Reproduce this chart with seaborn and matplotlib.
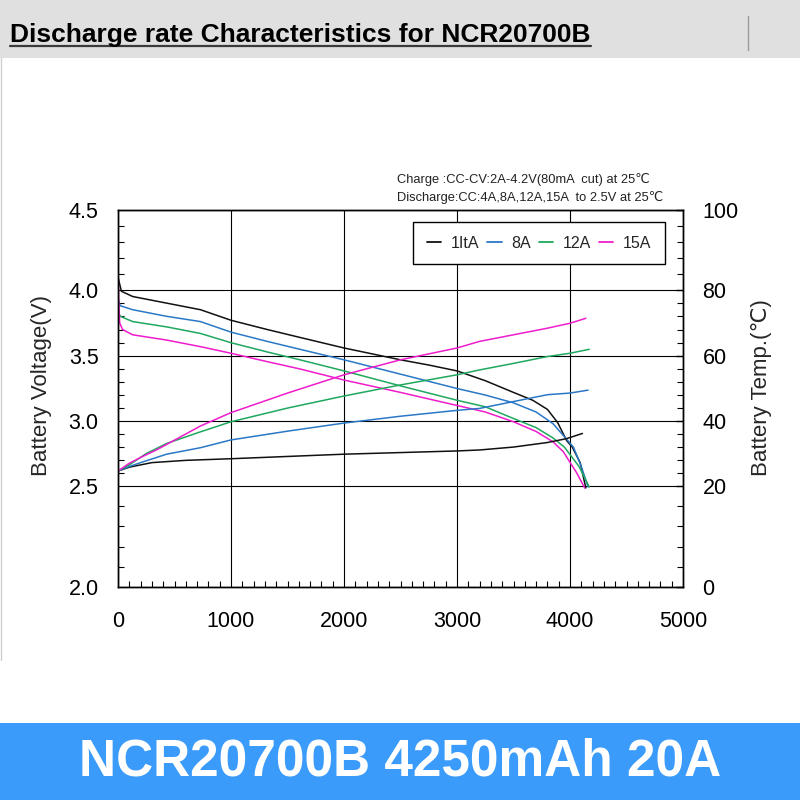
import numpy as np
import pandas as pd
import matplotlib
matplotlib.use("Agg")
import matplotlib.pyplot as plt
import seaborn as sns
from matplotlib.patches import Rectangle
from matplotlib.lines import Line2D
from matplotlib.ticker import MultipleLocator, FixedLocator, FormatStrFormatter

# discharge curves: capacity (mAh) vs voltage (V)
rates = ["1ItA", "8A", "12A", "15A"]
colors = ["#111111", "#2a78c6", "#1fa85e", "#ee1ccc"]

cap_v_4a = [0, 30, 130, 280, 430, 730, 1000, 1320, 1610, 2000, 2500, 2750, 3000, 3250, 3500, 3670, 3800, 3890, 3970, 4020, 4090, 4140]
volt_4a = [4.08, 3.99, 3.95, 3.925, 3.90, 3.85, 3.77, 3.70, 3.64, 3.56, 3.47, 3.43, 3.385, 3.31, 3.22, 3.16, 3.09, 2.99, 2.85, 2.80, 2.68, 2.49]

cap_v_8a = [0, 20, 130, 280, 430, 730, 1000, 1320, 1610, 2000, 2500, 3000, 3250, 3500, 3700, 3850, 3950, 4030, 4100, 4160]
volt_8a = [3.93, 3.88, 3.85, 3.825, 3.80, 3.76, 3.68, 3.61, 3.55, 3.47, 3.36, 3.25, 3.20, 3.14, 3.07, 2.98, 2.88, 2.80, 2.65, 2.495]

cap_v_12a = [0, 20, 130, 280, 430, 730, 1000, 1320, 1610, 2000, 2500, 3000, 3250, 3500, 3700, 3850, 3950, 4080, 4170]
volt_12a = [3.84, 3.80, 3.76, 3.74, 3.72, 3.67, 3.60, 3.53, 3.47, 3.385, 3.27, 3.16, 3.11, 3.02, 2.95, 2.87, 2.80, 2.65, 2.495]

cap_v_15a = [0, 5, 15, 40, 130, 280, 430, 730, 1000, 1320, 1610, 2000, 2500, 3000, 3250, 3500, 3700, 3850, 3940, 4060, 4130]
volt_15a = [4.16, 3.95, 3.75, 3.70, 3.66, 3.64, 3.62, 3.57, 3.52, 3.456, 3.40, 3.315, 3.22, 3.12, 3.07, 2.995, 2.92, 2.84, 2.765, 2.60, 2.49]

# cell temperature (degC)
cap_t_4a = [0, 100, 300, 600, 1000, 1500, 2000, 2500, 3000, 3200, 3500, 3800, 3970, 4110]
temp_4a = [24.6, 25.8, 27.2, 27.9, 28.4, 29.1, 29.8, 30.3, 30.8, 31.1, 32.0, 33.4, 34.6, 36.2]

cap_t_8a = [0, 100, 200, 430, 730, 1000, 1500, 2000, 2500, 3000, 3200, 3500, 3800, 4000, 4160]
temp_8a = [24.6, 26.0, 27.2, 29.8, 31.8, 34.2, 36.9, 39.4, 41.5, 43.3, 43.9, 46.0, 48.1, 48.6, 49.5]

cap_t_12a = [0, 100, 250, 430, 730, 1000, 1500, 2000, 2500, 3000, 3200, 3500, 3800, 4000, 4170]
temp_12a = [24.6, 26.5, 30.0, 33.1, 36.7, 39.8, 44.0, 47.7, 51.1, 54.2, 55.7, 57.7, 59.8, 60.8, 62.0]

cap_t_15a = [0, 100, 200, 340, 730, 1000, 1500, 2000, 2500, 3000, 3200, 3500, 3800, 4000, 4140]
temp_15a = [24.6, 27.0, 28.8, 31.1, 38.5, 42.6, 48.6, 54.2, 58.8, 62.4, 64.4, 66.4, 68.4, 69.9, 71.4]

volt_ticks = [2.0, 2.5, 3.0, 3.5, 4.0, 4.5]
temp_ticks = [0, 20, 40, 60, 80, 100]
cap_ticks = [0, 1000, 2000, 3000, 4000, 5000]
# the original chart's vertical axis is not evenly spaced
axis_pos = [0.0, 0.268, 0.440, 0.613, 0.788, 1.0]


def frame(caps, vals, name):
    return pd.DataFrame({"cap": caps, "val": vals, "rate": name})


volt_df = pd.concat([
    frame(cap_v_4a, volt_4a, "1ItA"),
    frame(cap_v_8a, volt_8a, "8A"),
    frame(cap_v_12a, volt_12a, "12A"),
    frame(cap_v_15a, volt_15a, "15A"),
], ignore_index=True)
temp_df = pd.concat([
    frame(cap_t_4a, temp_4a, "1ItA"),
    frame(cap_t_8a, temp_8a, "8A"),
    frame(cap_t_12a, temp_12a, "12A"),
    frame(cap_t_15a, temp_15a, "15A"),
], ignore_index=True)

sns.set_theme(style="ticks")
plt.rcParams["font.family"] = ["Liberation Sans", "DejaVu Sans"]

W, H = 800, 800
fig = plt.figure(figsize=(8, 8), dpi=100)
fig.patch.set_facecolor("white")

# header band and footer banner
fig.add_artist(Rectangle((0, 1 - 58 / H), 1, 58 / H, transform=fig.transFigure,
                         facecolor="#e0e0e0", edgecolor="none", zorder=0))
fig.add_artist(Line2D([748 / W, 748 / W], [1 - 50 / H, 1 - 16 / H], transform=fig.transFigure,
                      color="#9a9a9a", lw=1))
fig.add_artist(Line2D([1 / W, 1 / W], [1 - 660 / H, 1 - 58 / H], transform=fig.transFigure,
                      color="#cfcfcf", lw=1))
fig.add_artist(Rectangle((0, 0), 1, 77 / H, transform=fig.transFigure,
                         facecolor="#3a9bfb", edgecolor="none", zorder=0))

title = fig.text(10 / W, 1 - 42 / H, "Discharge rate Characteristics for NCR20700B",
                 fontsize=19, fontweight="bold", color="black", ha="left", va="baseline")
fig.text(0.5, 38 / H, "NCR20700B 4250mAh 20A", fontsize=37, fontweight="bold",
         color="white", ha="center", va="center")

fig.text(397 / W, 1 - 180 / H, "Charge :CC-CV:2A-4.2V(80mA  cut) at 25\u2103",
         fontsize=9.3, color="#222222", ha="left", va="center")
fig.text(397 / W, 1 - 197 / H, "Discharge:CC:4A,8A,12A,15A  to 2.5V at 25\u2103",
         fontsize=9.3, color="#222222", ha="left", va="center")

ax = fig.add_axes([118 / W, 1 - 587 / H, 565 / W, 377 / H])
ax2 = ax.twinx()

v_fwd = lambda v: np.interp(v, volt_ticks, axis_pos)
v_inv = lambda p: np.interp(p, axis_pos, volt_ticks)
t_fwd = lambda t: np.interp(t, temp_ticks, axis_pos)
t_inv = lambda p: np.interp(p, axis_pos, temp_ticks)
ax.set_yscale("function", functions=(v_fwd, v_inv))
ax2.set_yscale("function", functions=(t_fwd, t_inv))

sns.lineplot(data=volt_df, x="cap", y="val", hue="rate", hue_order=rates, palette=colors,
             sort=False, estimator=None, legend=False, lw=1.1, ax=ax)
sns.lineplot(data=temp_df, x="cap", y="val", hue="rate", hue_order=rates, palette=colors,
             sort=False, estimator=None, legend=False, lw=1.1, ax=ax2)

ax.set_xlim(0, 5000)
ax.set_ylim(2.0, 4.5)
ax2.set_ylim(0, 100)

ax.xaxis.set_major_locator(FixedLocator(cap_ticks))
ax.xaxis.set_minor_locator(MultipleLocator(100))
ax.yaxis.set_major_locator(FixedLocator(volt_ticks))
ax.yaxis.set_minor_locator(MultipleLocator(0.1))
ax.yaxis.set_major_formatter(FormatStrFormatter("%.1f"))
ax2.yaxis.set_major_locator(FixedLocator(temp_ticks))
ax2.yaxis.set_minor_locator(MultipleLocator(4))
ax2.yaxis.set_major_formatter(FormatStrFormatter("%d"))

ax.grid(True, which="major", color="black", lw=0.8)
ax.set_axisbelow(True)
for a in (ax, ax2):
    for s in a.spines.values():
        s.set_color("black")
        s.set_linewidth(1.0)
        s.set_visible(True)

ax.tick_params(axis="x", which="major", direction="in", length=0, pad=17, labelsize=15.5, colors="black")
ax.tick_params(axis="x", which="minor", direction="in", length=4, width=0.8, color="black")
ax.tick_params(axis="y", which="major", direction="in", length=0, pad=14, labelsize=15.5, colors="black",
               right=False)
ax.tick_params(axis="y", which="minor", direction="in", length=4, width=0.8, color="black", right=False)
ax2.tick_params(axis="y", which="major", direction="in", length=5, width=1, pad=14, labelsize=15.5,
                colors="black")
ax2.tick_params(axis="y", which="minor", direction="in", length=4, width=0.8, color="black")

ax.set_xlabel("")
ax.set_ylabel("Battery Voltage(V)", fontsize=16, va="center")
ax.yaxis.set_label_coords(-76 / 565, 0.535)
ax2.set_ylabel("Battery Temp.(\u2103)", fontsize=16, va="center")
ax2.yaxis.set_label_coords(1 + 79 / 565, 0.53)

handles = [Line2D([], [], color=c, lw=1.3) for c in colors]
leg = ax2.legend(handles, rates, loc="upper right", bbox_to_anchor=(0.968, 0.968), borderaxespad=0,
                 ncol=4, fontsize=11.5, handlelength=0.9, handletextpad=0.6, columnspacing=0.5,
                 borderpad=0.85, frameon=True, fancybox=False, framealpha=1)
leg.get_frame().set_edgecolor("black")
leg.get_frame().set_linewidth(1.0)

# underline the header title
fig.canvas.draw()
bb = title.get_window_extent().transformed(fig.transFigure.inverted())
fig.add_artist(Line2D([bb.x0, bb.x1], [1 - 46 / H, 1 - 46 / H], transform=fig.transFigure,
                      color="#3a3a3a", lw=1.6))

fig.savefig("out.png", dpi=100)
